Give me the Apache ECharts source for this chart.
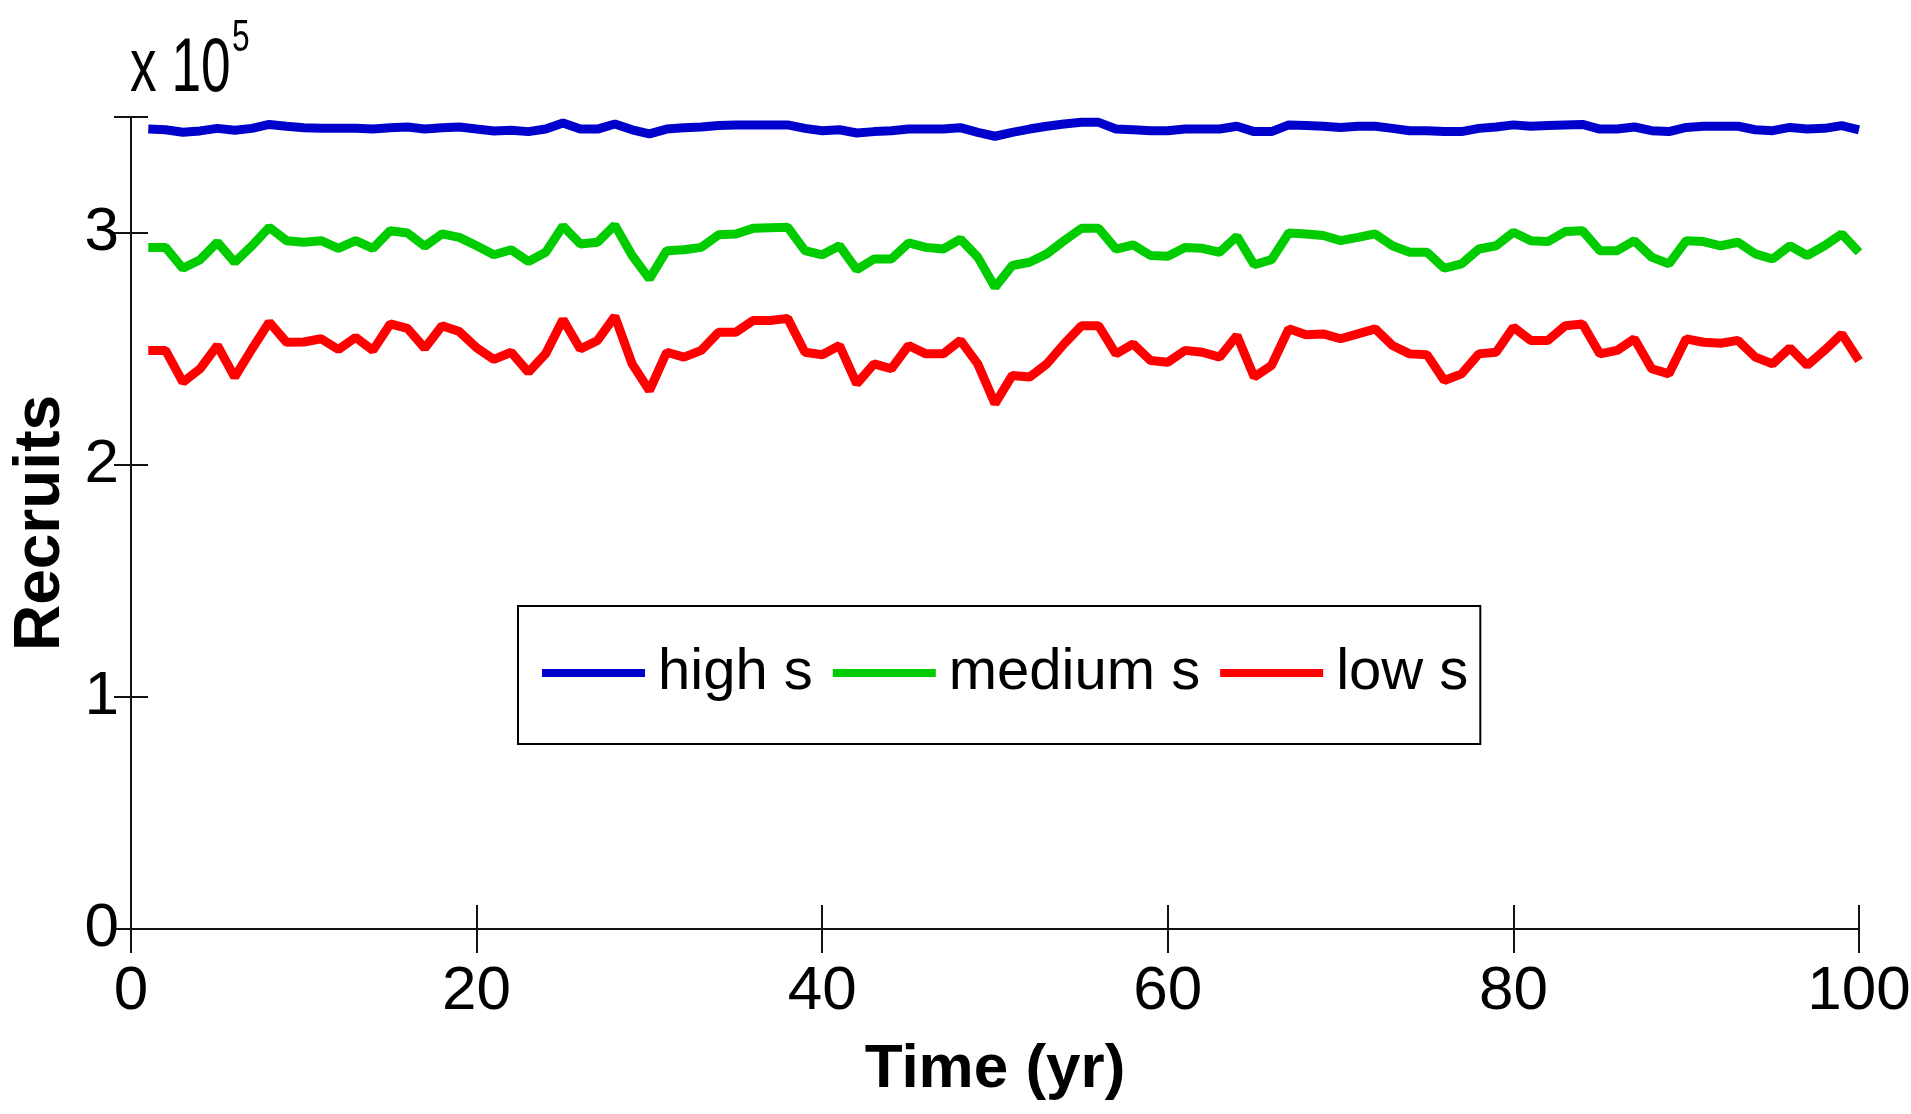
<!DOCTYPE html>
<html>
<head>
<meta charset="utf-8">
<script src="https://cdn.jsdelivr.net/npm/echarts@6/dist/echarts.min.js"></script>
<style>
html,body{margin:0;padding:0;background:#fff;}
#chart{width:1911px;height:1114px;}
</style>
</head>
<body>
<div id="chart"></div>
<script>
// Recruits, in units of 10^5
var years = [1,2,3,4,5,6,7,8,9,10,11,12,13,14,15,16,17,18,19,20,21,22,23,24,25,26,27,28,29,30,31,32,33,34,35,36,37,38,39,40,41,42,43,44,45,46,47,48,49,50,51,52,53,54,55,56,57,58,59,60,61,62,63,64,65,66,67,68,69,70,71,72,73,74,75,76,77,78,79,80,81,82,83,84,85,86,87,88,89,90,91,92,93,94,95,96,97,98,99,100];
var highS = [3.448,3.445,3.434,3.440,3.451,3.443,3.451,3.468,3.460,3.454,3.451,3.451,3.451,3.448,3.454,3.457,3.448,3.454,3.457,3.448,3.440,3.443,3.437,3.448,3.474,
3.448,3.448,3.470,3.445,3.427,3.448,3.454,3.457,3.463,3.466,3.466,3.466,3.466,3.451,3.441,3.445,3.431,3.437,3.441,3.448,3.448,3.448,3.454,3.434,3.417,
3.434,3.448,3.460,3.470,3.477,3.477,3.448,3.445,3.441,3.441,3.448,3.448,3.448,3.460,3.437,3.437,3.466,3.463,3.460,3.455,3.460,3.460,3.451,3.441,3.441,
3.437,3.437,3.451,3.457,3.466,3.460,3.463,3.466,3.468,3.448,3.448,3.457,3.441,3.437,3.455,3.460,3.460,3.460,3.445,3.441,3.455,3.448,3.451,3.463,3.445];
var mediumS = [2.938,2.938,2.848,2.885,2.960,2.874,2.945,3.025,2.967,2.960,2.967,2.934,2.967,2.934,3.010,3.000,2.943,2.996,2.981,2.945,2.906,2.928,2.877,2.917,3.030,
2.953,2.960,3.034,2.903,2.802,2.924,2.928,2.938,2.992,2.996,3.020,3.023,3.025,2.924,2.906,2.945,2.842,2.888,2.888,2.957,2.938,2.931,2.974,2.896,2.766,
2.860,2.874,2.910,2.967,3.020,3.020,2.931,2.949,2.903,2.900,2.938,2.934,2.917,2.986,2.863,2.885,3.000,2.996,2.989,2.967,2.981,2.996,2.945,2.917,2.917,
2.848,2.867,2.931,2.945,3.003,2.967,2.963,3.006,3.010,2.924,2.924,2.967,2.896,2.867,2.967,2.963,2.945,2.960,2.910,2.888,2.945,2.903,2.945,2.996,2.917];
var lowS = [2.494,2.494,2.357,2.415,2.515,2.379,2.500,2.616,2.529,2.530,2.544,2.498,2.550,2.494,2.608,2.589,2.503,2.600,2.575,2.505,2.455,2.486,2.400,2.480,2.627,
2.500,2.537,2.641,2.436,2.321,2.486,2.465,2.494,2.572,2.572,2.623,2.623,2.632,2.486,2.475,2.515,2.350,2.436,2.415,2.515,2.479,2.479,2.537,2.436,2.264,
2.386,2.379,2.436,2.522,2.600,2.600,2.479,2.522,2.450,2.443,2.494,2.486,2.465,2.558,2.379,2.429,2.587,2.561,2.565,2.544,2.565,2.587,2.515,2.479,2.475,
2.364,2.393,2.479,2.486,2.594,2.537,2.537,2.600,2.608,2.479,2.494,2.544,2.415,2.393,2.544,2.529,2.525,2.537,2.465,2.436,2.505,2.429,2.494,2.565,2.450];
var seriesNames = ['high s','medium s','low s'];
var seriesColors = ['#0000CC','#00CC00','#FF0000'];
var xTicks = [0,20,40,60,80,100];
var yTicks = [0,1,2,3];

function pairs(vals){ return years.map(function(y,i){ return [y, vals[i]]; }); }

var FONT = '"Liberation Sans",Arial,sans-serif';
var chart = echarts.init(document.getElementById('chart'), null, {renderer:'canvas'});
var axisLineStyle = {color:'#111', width:2};
var option = {
  animation:false,
  backgroundColor:'#fff',
  grid:{left:131, right:52, top:117, bottom:185, containLabel:false, outerBoundsMode:'none'},
  xAxis:[{
    type:'value', min:0, max:100, interval:20, position:'bottom',
    name:'Time (yr)', nameLocation:'middle', nameGap:110,
    nameTextStyle:{fontFamily:FONT, fontWeight:'bold', fontSize:62, color:'#000'},
    axisLine:{show:true, lineStyle:axisLineStyle},
    axisTick:{show:true, inside:true, length:24, lineStyle:{color:'#111', width:2}},
    axisLabel:{show:true, margin:32, fontFamily:FONT, fontSize:62, color:'#000',
      formatter:function(v){ return xTicks.indexOf(v) >= 0 ? String(v) : ''; }},
    splitLine:{show:false}
  },{
    type:'value', min:0, max:100, interval:20, position:'top',
    axisLine:{show:true, lineStyle:axisLineStyle},
    axisTick:{show:true, inside:true, length:24, lineStyle:{color:'#111', width:2}},
    axisLabel:{show:false}, splitLine:{show:false}
  }],
  yAxis:[{
    type:'value', min:0, max:3.5, interval:1, position:'left',
    name:'Recruits', nameLocation:'middle', nameGap:54, nameRotate:90,
    nameTextStyle:{fontFamily:FONT, fontWeight:'bold', fontSize:64, color:'#000'},
    axisLine:{show:true, lineStyle:axisLineStyle},
    axisTick:{show:true, inside:true, length:17, lineStyle:{color:'#111', width:2}},
    axisLabel:{show:true, margin:12, fontFamily:FONT, fontSize:62, color:'#000',
      formatter:function(v){ return yTicks.indexOf(v) >= 0 ? String(v) : ''; }},
    splitLine:{show:false}
  },{
    type:'value', min:0, max:3.5, interval:1, position:'right',
    axisLine:{show:true, lineStyle:axisLineStyle},
    axisTick:{show:true, inside:true, length:17, lineStyle:{color:'#111', width:2}},
    axisLabel:{show:false}, splitLine:{show:false}
  }],
  legend:{
    show:true, left:518, top:606, orient:'horizontal',
    data:seriesNames, icon:'rect', itemWidth:103, itemHeight:8, itemGap:20,
    borderColor:'#000', borderWidth:2, backgroundColor:'#fff', borderRadius:0,
    padding:[38,12,42,24],
    textStyle:{fontFamily:FONT, fontSize:58, color:'#000', padding:[6,0,0,8]}
  },
  graphic:[
    {type:'text', x:130, y:32, scaleX:0.7, style:{text:'x 10', font:'76px ' + FONT, fill:'#000'}},
    {type:'text', x:232, y:17, scaleX:0.72, style:{text:'5', font:'44px ' + FONT, fill:'#000'}}
  ],
  series:[highS, mediumS, lowS].map(function(vals, i){
    return {
      name:seriesNames[i], type:'line', xAxisIndex:0, yAxisIndex:0,
      data:pairs(vals), showSymbol:false, symbol:'none',
      lineStyle:{color:seriesColors[i], width:9}, itemStyle:{color:seriesColors[i]},
      z:3
    };
  })
};
chart.setOption(option);
</script>
</body>
</html>
